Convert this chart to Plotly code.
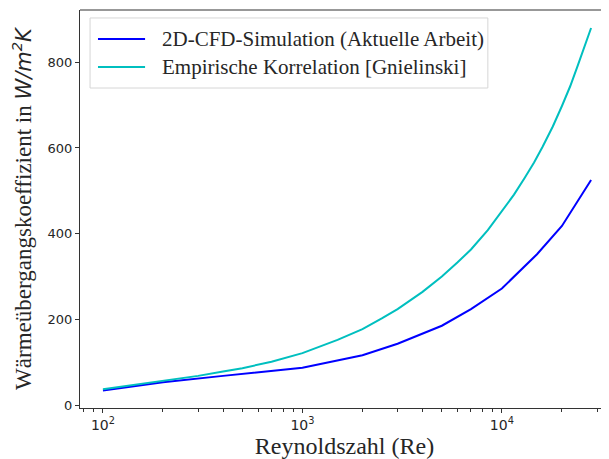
import plotly.graph_objects as go

re_sim = [100, 200, 400, 700, 1000, 2000, 3000, 5000, 7000, 10000, 15000, 20000, 28000]
h_sim = [34, 53, 68, 80, 87, 116, 143, 185, 224, 272, 352, 418, 525]

re_emp = [100, 150, 200, 300, 400, 500, 700, 1000, 1500, 2000, 2500, 3000, 4000, 5000,
          6000, 7000, 8500, 10000, 11500, 13000, 14500, 16000, 18000, 20000, 22000,
          24000, 26000, 28000]
h_emp = [37, 48, 57, 68, 78, 86, 101, 121, 152, 177, 202, 224, 264, 300,
         333, 363, 408, 452, 491, 530, 566, 603, 650, 698, 744,
         792, 837, 880]

major_ticks = [100, 1000, 10000]
major_labels = ["10<sup>2</sup>", "10<sup>3</sup>", "10<sup>4</sup>"]
minor_ticks = [80, 90, 200, 300, 400, 500, 600, 700, 800, 900,
               2000, 3000, 4000, 5000, 6000, 7000, 8000, 9000, 20000, 30000]
y_ticks = [0, 200, 400, 600, 800]

name_sim = "2D-CFD-Simulation (Aktuelle Arbeit)"
name_emp = "Empirische Korrelation [Gnielinski]"
col_sim = "#0000ff"
col_emp = "#00bfbf"

fig = go.Figure()
fig.add_trace(go.Scatter(x=re_sim, y=h_sim, mode="lines", name=name_sim,
                         line=dict(color=col_sim, width=2), showlegend=False))
fig.add_trace(go.Scatter(x=re_emp, y=h_emp, mode="lines", name=name_emp,
                         line=dict(color=col_emp, width=2), showlegend=False))

tickfont = dict(family="DejaVu Sans", size=13, color="#262626")
xtickfont = dict(family="DejaVu Sans", size=14, color="#262626")
serif = "Liberation Serif, Times New Roman, serif"

# legend drawn by hand (box, line samples, labels) in paper coordinates
lx0, lx1, ly0, ly1 = 0.019, 0.771, 0.804, 0.980
sx0, sx1, tx = 0.034, 0.123, 0.151
rows = [(0.927, name_sim, col_sim), (0.857, name_emp, col_emp)]

shapes = [
    dict(type="line", xref="paper", yref="paper", x0=0, x1=1, y0=1, y1=1,
         line=dict(color="#333333", width=1.2)),
    dict(type="rect", xref="paper", yref="paper", x0=lx0, x1=lx1, y0=ly0, y1=ly1,
         line=dict(color="#d6d6d6", width=1), fillcolor="rgba(255,255,255,0.9)"),
]
annotations = []
for yy, txt, col in rows:
    shapes.append(dict(type="line", xref="paper", yref="paper", x0=sx0, x1=sx1,
                       y0=yy, y1=yy, line=dict(color=col, width=2)))
    annotations.append(dict(xref="paper", yref="paper", x=tx, y=yy, text=txt,
                            showarrow=False, xanchor="left", yanchor="middle",
                            font=dict(family=serif, size=21, color="#262626")))

# page body has an 8px margin, so the figure is offset by (8, 8) in the window
fig.update_layout(
    width=609, height=459,
    margin=dict(l=72, r=8, t=2, b=59, autoexpand=False),
    paper_bgcolor="white", plot_bgcolor="white",
    showlegend=False,
    xaxis=dict(type="log", range=[1.885, 4.537],
               tickmode="array", tickvals=major_ticks, ticktext=major_labels,
               automargin=False,
               showgrid=False, zeroline=False, showline=True, linecolor="#333333",
               linewidth=1.2, ticks="outside", ticklen=4, tickcolor="#333333",
               tickfont=xtickfont,
               minor=dict(tickmode="array", tickvals=minor_ticks, ticks="outside",
                          ticklen=2.5, tickcolor="#333333", showgrid=False),
               title=dict(text="Reynoldszahl (Re)", font=dict(family=serif, size=24, color="#262626"),
                          standoff=0)),
    yaxis=dict(range=[-7, 922], tickmode="array", tickvals=y_ticks,
               automargin=False,
               showgrid=False, zeroline=False, showline=True, linecolor="#333333",
               linewidth=1.2, ticks="outside", ticklen=4, tickcolor="#333333",
               tickfont=tickfont,
               title=dict(text="Wärmeübergangskoeffizient in <span style='font-family:DejaVu Sans;font-size:21px'><i>W/m<sup>2</sup>K</i></span>",
                          font=dict(family=serif, size=23, color="#262626"), standoff=10)),
    shapes=shapes,
    annotations=annotations,
)

fig.write_html("out.html")
